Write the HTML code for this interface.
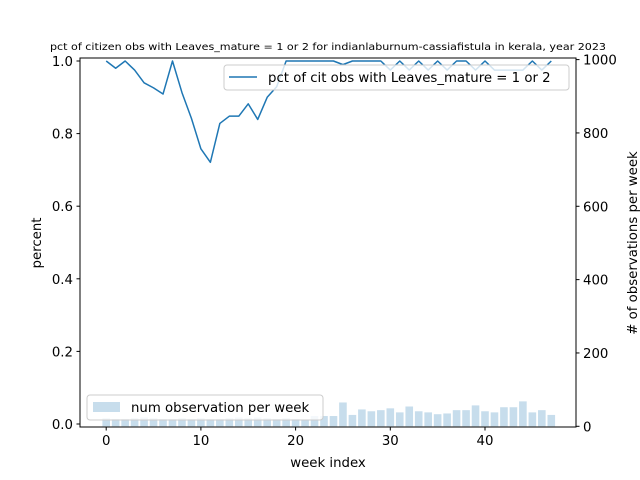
<!DOCTYPE html>
<html><head><meta charset="utf-8"><style>
body{margin:0;background:#fff}
svg{display:block;font-family:"DejaVu Sans","Liberation Sans",sans-serif}
</style></head><body>
<svg id="chart" width="640" height="480" viewBox="0 0 640 480">
<rect width="640" height="480" fill="#fff"/>
<text x="328" y="50" font-size="9.7" text-anchor="middle" textLength="556" lengthAdjust="spacingAndGlyphs">pct of citizen obs with Leaves_mature = 1 or 2 for indianlaburnum-cassiafistula in kerala, year 2023</text>
<g id="lineG"></g>
<g id="legend1">
<rect x="224" y="65" width="345" height="25" rx="3" fill="#fff" fill-opacity="0.8" stroke="#ccc" stroke-width="1"/>
<line x1="229" y1="77" x2="257" y2="77" stroke="#1f77b4" stroke-width="1.5"/>
<text x="268" y="82" font-size="13.3">pct of cit obs with Leaves_mature = 1 or 2</text>
</g>
<g id="barG"></g>
<g id="legend2">
<rect x="87" y="395" width="236" height="25" rx="3" fill="#fff" fill-opacity="0.8" stroke="#ccc" stroke-width="1"/>
<rect x="93" y="402" width="27" height="10" fill="#1f77b4" fill-opacity="0.25"/>
<text x="131" y="412" font-size="13.3">num observation per week</text>
</g>
<rect x="80" y="58" width="496" height="369" fill="none" stroke="#000" stroke-width="1"/>
<g id="axes"></g>
<text x="328" y="467" font-size="13.3" text-anchor="middle">week index</text>
<text transform="translate(41,243) rotate(-90)" font-size="13.3" text-anchor="middle">percent</text>
<text transform="translate(637,243) rotate(-90)" font-size="13.3" text-anchor="middle"># of observations per week</text>
</svg>
<script>
const weeks = [0,1,2,3,4,5,6,7,8,9,10,11,12,13,14,15,16,17,18,19,20,21,22,23,24,25,26,27,28,29,30,31,32,33,34,35,36,37,38,39,40,41,42,43,44,45,46,47];
const pctValues = [1.0,0.98,1.0,0.975,0.94,0.926,0.909,1.0,0.913,0.842,0.758,0.721,0.828,0.848,0.848,0.882,0.839,0.9,0.929,1.0,1.0,1.0,1.0,1.0,1.0,0.99,1.0,1.0,1.0,1.0,0.975,1.0,0.975,1.0,0.975,1.0,0.975,1.0,1.0,0.975,1.0,0.975,0.975,0.975,0.975,1.0,0.975,1.0];
const obsCounts = [22,20,20,22,24,22,20,20,22,20,22,20,20,22,24,22,24,22,20,22,20,18,28,28,28,65,31,46,41,44,49,38,54,41,38,33,35,44,44,57,41,38,52,52,68,38,44,31];
const xTicks = [0,10,20,30,40];
const yTicks = [0,0.2,0.4,0.6,0.8,1.0];
const yTickLabels = ["0.0","0.2","0.4","0.6","0.8","1.0"];
const y2Ticks = [0,200,400,600,800,1000];

const NS="http://www.w3.org/2000/svg";
const X = w => 106.2 + 9.47*w;
const Y = v => 424 - 363*v;
const Y2 = c => 426.3 - 0.3667*c;
function mk(tag, attrs, parent){const e=document.createElementNS(NS,tag);for(const k in attrs)e.setAttribute(k,attrs[k]);parent.appendChild(e);return e;}

const lineG=document.getElementById('lineG');
const pts=weeks.map((w,i)=>X(w).toFixed(2)+','+Y(pctValues[i]).toFixed(2)).join(' ');
const pl=mk('polyline',{points:pts,fill:'none',stroke:'#1f77b4','stroke-width':1.5,'stroke-linejoin':'round'},lineG);



const barG=document.getElementById('barG');
weeks.forEach((w,i)=>{
  const r=mk('rect',{x:X(w)-3.8,width:7.6,y:Y2(obsCounts[i]),height:Y2(0)-Y2(obsCounts[i]),fill:'#1f77b4','fill-opacity':0.25},barG);
  
  
});

const axes=document.getElementById('axes');
xTicks.forEach(t=>{
  mk('line',{x1:X(t),x2:X(t),y1:427,y2:430.5,stroke:'#000'},axes);
  const tx=mk('text',{x:X(t),y:445,'font-size':13.3,'text-anchor':'middle'},axes);
  tx.textContent=t;
  
  
});
yTicks.forEach((t,i)=>{
  mk('line',{x1:76.5,x2:80,y1:Y(t),y2:Y(t),stroke:'#000'},axes);
  const tx=mk('text',{x:73,y:Y(t)+5,'font-size':13.3,'text-anchor':'end'},axes);
  tx.textContent=yTickLabels[i];
  
  
});
y2Ticks.forEach(t=>{
  mk('line',{x1:576,x2:579.5,y1:Y2(t),y2:Y2(t),stroke:'#000'},axes);
  const tx=mk('text',{x:583,y:Y2(t)+5,'font-size':13.3,'text-anchor':'start'},axes);
  tx.textContent=t;
  
  
});
</script>
</body></html>
